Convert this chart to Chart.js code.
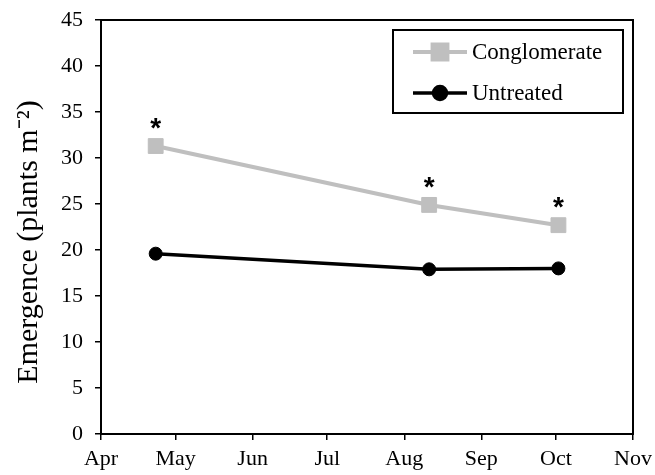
<!DOCTYPE html>
<html>
<head>
<meta charset="utf-8">
<script src="https://cdn.jsdelivr.net/npm/chart.js@4.4.0/dist/chart.umd.min.js"></script>
<style>
  html, body { margin: 0; padding: 0; background: #fff; }
</style>
</head>
<body>
<canvas id="myChart" width="655" height="475"></canvas>
<script>
// Emergence data.
const sampleDates = ["2013-04-23", "2013-08-11", "2013-10-02"];
const conglomerate = [31.3, 24.9, 22.7];
const untreated = [19.6, 17.9, 18.0];
const significant = [true, true, true];

const monthLabels = ["Apr", "May", "Jun", "Jul", "Aug", "Sep", "Oct", "Nov"];
const monthStarts = ["2013-04-01", "2013-05-01", "2013-06-01", "2013-07-01",
  "2013-08-01", "2013-09-01", "2013-10-01", "2013-11-01"];

const FONT = "'Liberation Serif', 'Times New Roman', serif";
const GREY = "#bfbfbf";

// days since 1 April
const dayOf = (s) => (Date.parse(s) - Date.parse(monthStarts[0])) / 86400000;
const monthDays = monthStarts.map(dayOf);

const toPoints = (arr) => arr.map((v, i) => ({ x: dayOf(sampleDates[i]), y: v }));

// frame around the plot area (top and right sides)
const frame = {
  id: "frame",
  afterDatasetsDraw(chart) {
    const { ctx, chartArea: a } = chart;
    ctx.save();
    ctx.strokeStyle = "#000";
    ctx.lineWidth = 2;
    ctx.strokeRect(a.left, a.top, a.right - a.left, a.bottom - a.top);
    ctx.restore();
  },
};

// asterisks over the significant points
const stars = {
  id: "stars",
  afterDatasetsDraw(chart) {
    const ctx = chart.ctx;
    const meta = chart.getDatasetMeta(0);
    ctx.save();
    ctx.fillStyle = "#000";
    ctx.font = "bold 28px 'Liberation Sans', Arial, sans-serif";
    ctx.textAlign = "center";
    ctx.textBaseline = "middle";
    meta.data.forEach((pt, i) => {
      if (significant[i]) ctx.fillText("*", pt.x, pt.y - 17);
    });
    ctx.restore();
  },
};

// boxed legend with line + marker samples
const boxLegend = {
  id: "boxLegend",
  afterDraw(chart) {
    const { ctx, chartArea: a } = chart;
    const w = 230, h = 83;
    const left = a.right - 10 - w, top = a.top + 10;
    ctx.save();
    ctx.fillStyle = "#fff";
    ctx.fillRect(left, top, w, h);
    ctx.strokeStyle = "#000";
    ctx.lineWidth = 2;
    ctx.strokeRect(left, top, w, h);
    const rows = [top + 22, top + 63];
    chart.data.datasets.forEach((ds, i) => {
      const y = rows[i];
      ctx.strokeStyle = ds.borderColor;
      ctx.lineWidth = ds.borderWidth;
      ctx.beginPath();
      ctx.moveTo(left + 20, y);
      ctx.lineTo(left + 74, y);
      ctx.stroke();
      Chart.helpers.drawPoint(ctx, {
        pointStyle: ds.pointStyle,
        radius: ds.pointRadius,
        borderWidth: 1,
      }, left + 47, y);
      ctx.fillStyle = ds.pointBackgroundColor;
      ctx.fill();
      ctx.fillStyle = "#000";
      ctx.font = "23px " + FONT;
      ctx.textAlign = "left";
      ctx.textBaseline = "middle";
      ctx.fillText(ds.label, left + 79, y + 1);
    });
    ctx.restore();
  },
};

var ctx = document.getElementById("myChart");
var myChart = new Chart(ctx, {
  type: "line",
  data: {
    datasets: [
      {
        label: "Conglomerate",
        data: toPoints(conglomerate),
        borderColor: GREY,
        backgroundColor: GREY,
        pointBackgroundColor: GREY,
        pointBorderColor: GREY,
        borderWidth: 4,
        pointStyle: "rect",
        pointRadius: 10.5,
        pointBorderWidth: 1,
      },
      {
        label: "Untreated",
        data: toPoints(untreated),
        borderColor: "#000",
        backgroundColor: "#000",
        pointBackgroundColor: "#000",
        pointBorderColor: "#000",
        borderWidth: 3.5,
        pointStyle: "circle",
        pointRadius: 6.5,
        pointBorderWidth: 1,
      },
    ],
  },
  options: {
    responsive: false,
    animation: false,
    layout: { padding: { top: 20, right: 22, left: 0, bottom: 0 } },
    plugins: {
      legend: { display: false },
      tooltip: { enabled: false },
    },
    scales: {
      x: {
        type: "linear",
        min: monthDays[0],
        max: monthDays[monthDays.length - 1],
        afterBuildTicks: (scale) => {
          scale.ticks = monthDays.map((v) => ({ value: v }));
        },
        afterFit: (scale) => {
          scale.height = 41;
          scale.paddingLeft = 0;
          scale.paddingRight = 0;
        },
        border: { color: "#000", width: 2 },
        grid: { drawOnChartArea: false, tickLength: 6, color: "#000", lineWidth: 1.5 },
        ticks: {
          autoSkip: false,
          maxRotation: 0,
          padding: 6,
          color: "#000",
          font: { family: FONT, size: 22 },
          callback: function (value, index) {
            return monthLabels[index];
          },
        },
      },
      y: {
        min: 0,
        max: 45,
        afterFit: (scale) => {
          scale.width = 101;
          scale.paddingTop = 0;
          scale.paddingBottom = 0;
        },
        border: { color: "#000", width: 2 },
        grid: { drawOnChartArea: false, tickLength: 6, color: "#000", lineWidth: 1.5 },
        ticks: {
          stepSize: 5,
          padding: 12,
          color: "#000",
          font: { family: FONT, size: 22 },
        },
        title: {
          display: true,
          // trailing spaces nudge the rotated title down, as in the original
          text: "Emergence (plants m\u207B\u00B2)\u2002\u2002",
          color: "#000",
          font: { family: FONT, size: 30 },
          padding: { top: 11, bottom: 0 },
        },
      },
    },
  },
  plugins: [frame, stars, boxLegend],
});
</script>
</body>
</html>
